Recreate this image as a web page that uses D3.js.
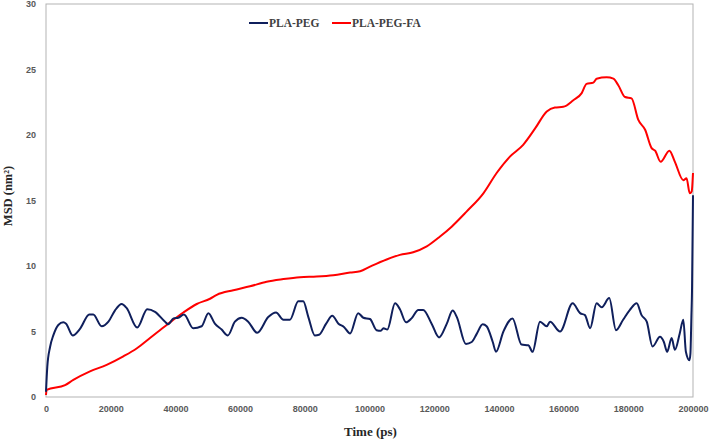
<!DOCTYPE html>
<html>
<head>
<meta charset="utf-8">
<script src="https://cdn.jsdelivr.net/npm/d3@7"></script>
<style>
  html, body { margin: 0; padding: 0; background: #fff; }
  svg { display: block; }
</style>
</head>
<body>
<svg id="chart" width="709" height="441"></svg>
<script>
// ---- data ----
const seriesNames = ["PLA-PEG", "PLA-PEG-FA"];
const seriesColors = ["#0f1f5c", "#ff0000"];

const plaPegTime = [0, 400, 1240, 2260, 3800, 5350, 6200, 8250, 10500, 13400, 14600, 17200, 19300, 21300, 23400, 24900, 28200, 31300, 33700, 36800, 37800, 39400, 40900, 42650, 45500, 48100, 50200, 52200, 54300, 56200, 58400, 60500, 62500, 65300, 68700, 71100, 73400, 75400, 78000, 79500, 81100, 83100, 84400, 86600, 88500, 90400, 92100, 94000, 96500, 98100, 100150, 102200, 103500, 104300, 105500, 107900, 109400, 111300, 113000, 115100, 116600, 119200, 121500, 123900, 125700, 127000, 129800, 131600, 133100, 135000, 136200, 138100, 139100, 141400, 144200, 147000, 149100, 150400, 152700, 154800, 155800, 158900, 162800, 165100, 166600, 168200, 170200, 171800, 174100, 176200, 178400, 180500, 182600, 184100, 185700, 187500, 189800, 191000, 192000, 193400, 194400, 195900, 197000, 197800, 198900, 199200, 199500, 199700, 200000];
const plaPegMsd = [0.4, 2.3, 3.8, 4.7, 5.5, 5.7, 5.6, 4.7, 5.2, 6.3, 6.3, 5.4, 5.75, 6.6, 7.1, 6.8, 5.3, 6.7, 6.5, 5.75, 5.55, 6.0, 6.05, 6.3, 5.25, 5.4, 6.4, 5.6, 5.15, 4.7, 5.75, 6.05, 5.75, 4.9, 6.1, 6.45, 5.9, 5.9, 7.3, 7.3, 6.1, 4.7, 4.75, 5.6, 6.2, 5.6, 5.35, 4.85, 6.4, 6.05, 5.95, 5.1, 5.05, 5.25, 5.15, 7.15, 6.7, 5.7, 6.0, 6.65, 6.65, 5.6, 4.55, 5.6, 6.6, 6.1, 4.05, 4.2, 4.8, 5.55, 5.4, 4.2, 3.45, 5.0, 6.0, 4.0, 3.95, 3.45, 5.75, 5.4, 5.75, 5.0, 7.15, 6.4, 6.25, 5.25, 7.15, 6.85, 7.55, 5.1, 5.9, 6.65, 7.15, 6.25, 5.75, 3.85, 4.6, 4.2, 3.45, 4.5, 3.6, 4.85, 5.9, 3.45, 2.8, 3.3, 6.1, 8.2, 15.4];

const plaPegFaTime = [0, 200, 5900, 8450, 13600, 18750, 23900, 28000, 32150, 37300, 42450, 46600, 50700, 52800, 57900, 63050, 68200, 73350, 78500, 83700, 88800, 94000, 97100, 100150, 105300, 109400, 113500, 117700, 121800, 125400, 130000, 135200, 139300, 143400, 147500, 151200, 154800, 157300, 159900, 163000, 165600, 167100, 169200, 170200, 173300, 175400, 176900, 179000, 181000, 183100, 185200, 187200, 188300, 190000, 192700, 194400, 197000, 198000, 199000, 199600, 200000];
const plaPegFaMsd = [0.15, 0.55, 0.9, 1.3, 1.95, 2.45, 3.1, 3.7, 4.5, 5.5, 6.45, 7.1, 7.5, 7.8, 8.15, 8.45, 8.8, 9.0, 9.15, 9.2, 9.3, 9.5, 9.6, 9.95, 10.5, 10.85, 11.05, 11.5, 12.25, 13.0, 14.15, 15.55, 17.1, 18.35, 19.25, 20.5, 21.8, 22.1, 22.15, 22.65, 23.2, 23.9, 24.0, 24.3, 24.4, 24.3, 23.8, 22.9, 22.8, 21.15, 20.4, 19.0, 18.8, 17.95, 18.8, 17.95, 16.55, 16.7, 15.55, 15.7, 17.1];

const xTicks = [0, 20000, 40000, 60000, 80000, 100000, 120000, 140000, 160000, 180000, 200000];
const yTicks = [0, 5, 10, 15, 20, 25, 30];
const xTitle = "Time (ps)";
const yTitle = "MSD (nm\u00B2)";

// ---- layout ----
const W = 709, H = 441;
const m = { left: 46, right: 16, top: 4, bottom: 44 };
const svg = d3.select("#chart");

const x = d3.scaleLinear().domain([0, 200000]).range([m.left, W - m.right]);
const y = d3.scaleLinear().domain([0, 30]).range([H - m.bottom, m.top]);

// plot border
svg.append("rect")
  .attr("x", x(0)).attr("y", y(30))
  .attr("width", x(200000) - x(0)).attr("height", y(0) - y(30))
  .attr("fill", "none").attr("stroke", "#b3b3b3").attr("stroke-width", 1);

// axes (labels only)
const xAxis = svg.append("g")
  .attr("transform", `translate(0,${y(0)})`)
  .call(d3.axisBottom(x).tickValues(xTicks).tickFormat(d3.format("d")).tickSize(0).tickPadding(9));
const yAxis = svg.append("g")
  .attr("transform", `translate(${x(0)},0)`)
  .call(d3.axisLeft(y).tickValues(yTicks).tickFormat(d3.format("d")).tickSize(0).tickPadding(10));
[xAxis, yAxis].forEach(g => {
  g.select(".domain").remove();
  g.selectAll("text")
    .attr("fill", "#595959")
    .style("font-family", "'Liberation Sans', Arial, sans-serif")
    .style("font-size", "9px")
    .style("font-weight", "bold");
});

// lines
const line = d3.line().curve(d3.curveMonotoneX).x(d => x(d[0])).y(d => y(d[1]));
const data = [
  d3.zip(plaPegTime, plaPegMsd),
  d3.zip(plaPegFaTime, plaPegFaMsd)
];
[1, 0].forEach(i => {
  svg.append("path")
    .datum(data[i])
    .attr("fill", "none")
    .attr("stroke", seriesColors[i])
    .attr("stroke-width", 2)
    .attr("stroke-linejoin", "round")
    .attr("d", line);
});

// titles
svg.append("text")
  .attr("x", (x(0) + x(200000)) / 2 + 1).attr("y", 436)
  .attr("text-anchor", "middle")
  .attr("fill", "#262626")
  .style("font-family", "'Liberation Serif', 'Times New Roman', serif")
  .style("font-size", "13px").style("font-weight", "bold")
  .text(xTitle);

svg.append("text")
  .attr("transform", `translate(12,196) rotate(-90)`)
  .attr("text-anchor", "middle")
  .attr("fill", "#262626")
  .style("font-family", "'Liberation Serif', 'Times New Roman', serif")
  .style("font-size", "12.5px").style("font-weight", "bold")
  .text(yTitle);

// legend
const legendX = [249, 332];
seriesNames.forEach((name, i) => {
  const g = svg.append("g").attr("transform", `translate(${legendX[i]},23)`);
  g.append("line").attr("x1", 0).attr("x2", 19).attr("y1", 0).attr("y2", 0)
    .attr("stroke", seriesColors[i]).attr("stroke-width", 2);
  g.append("text").attr("x", 20).attr("y", 4)
    .attr("fill", "#404040")
    .style("font-family", "'Liberation Serif', 'Times New Roman', serif")
    .style("font-size", "11.5px").style("font-weight", "bold")
    .text(name);
});
</script>
</body>
</html>
